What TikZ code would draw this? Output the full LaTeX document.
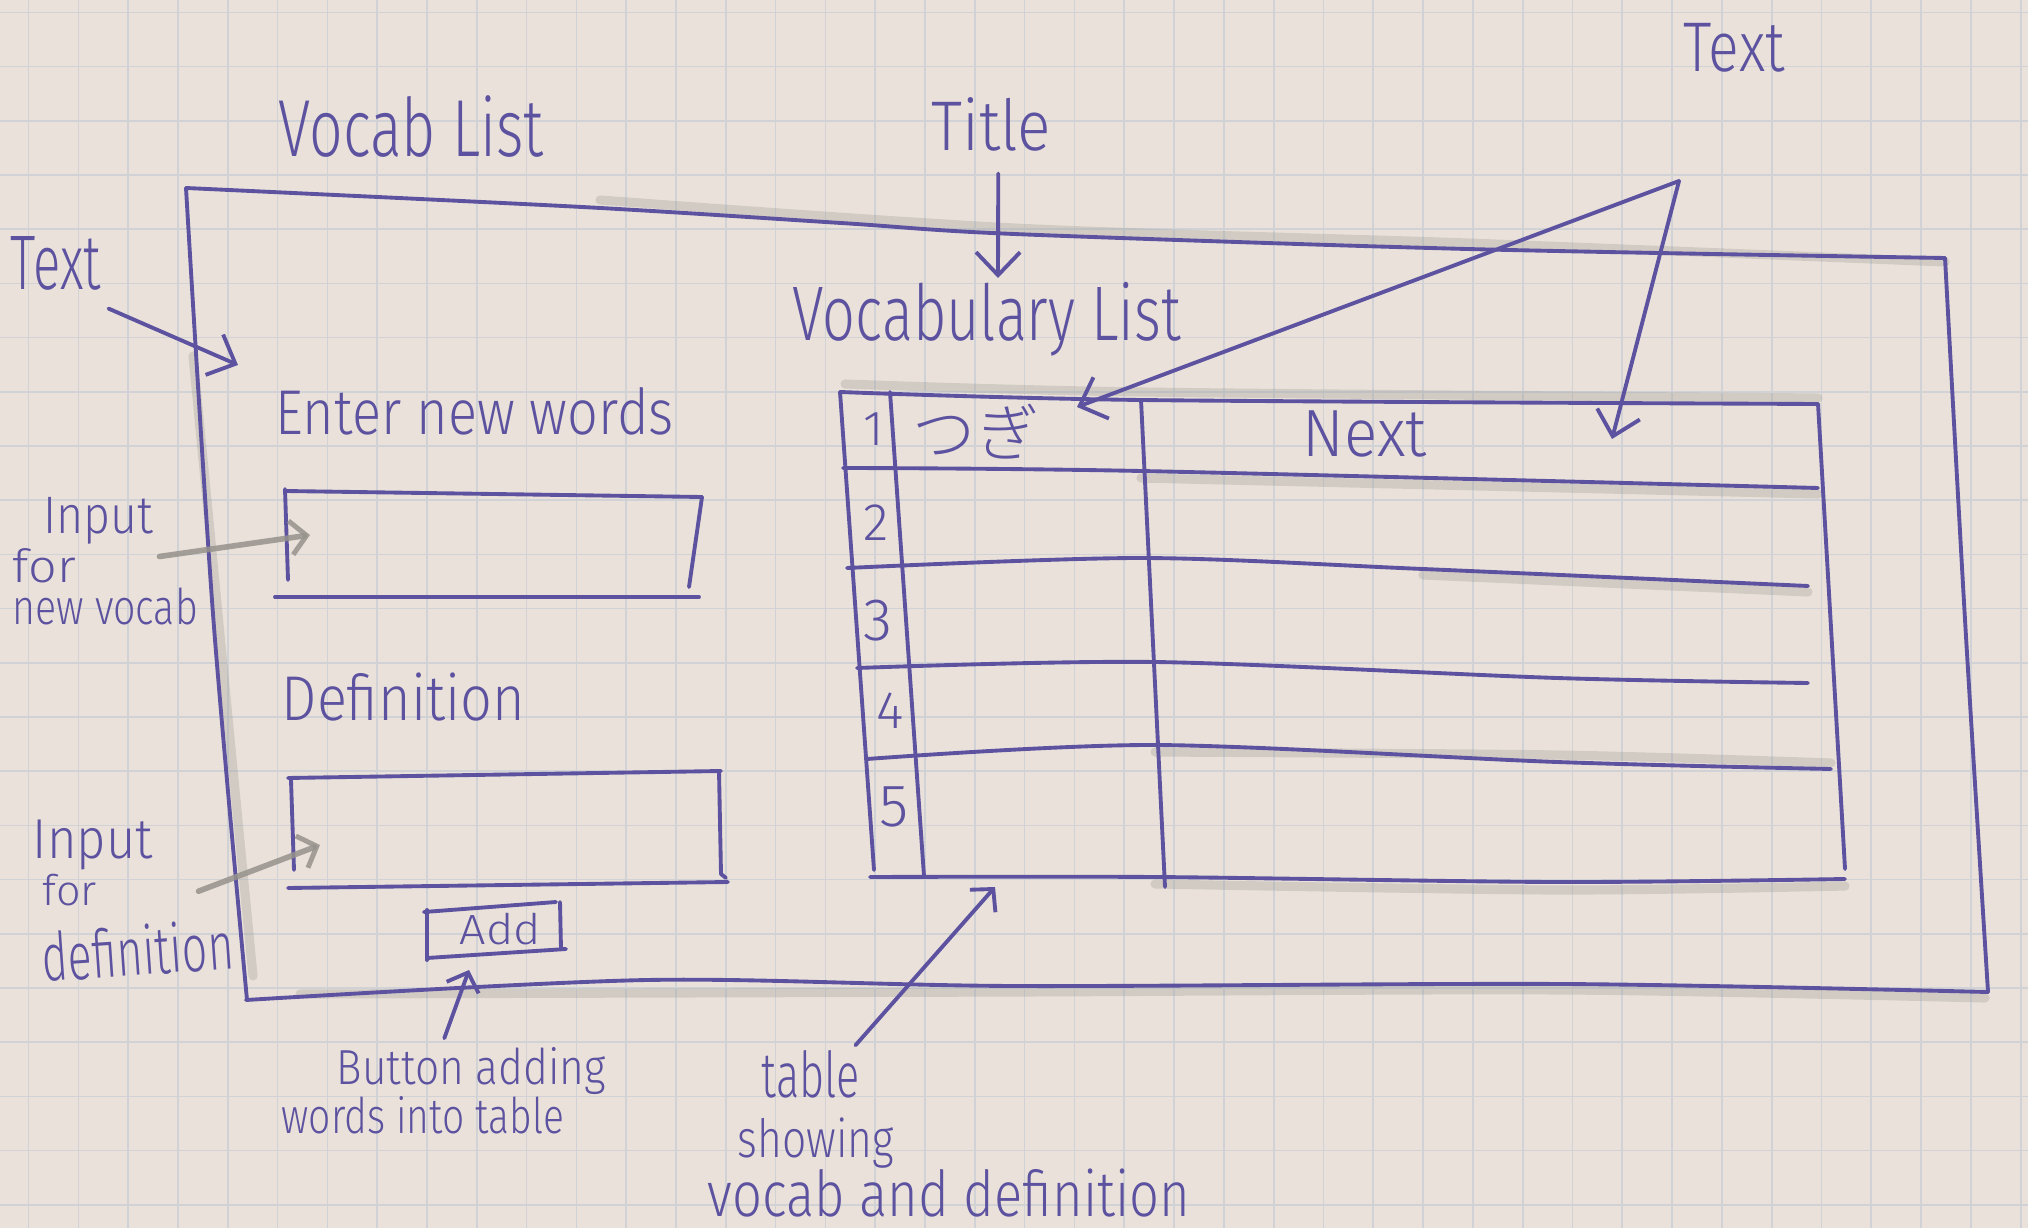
\documentclass[tikz,border=0pt]{standalone}
\usepackage{fontspec}
\usepackage{graphicx}
\IfFontExistsTF{Fira Sans Light}{\setmainfont{Fira Sans Light}}{%
  \IfFontExistsTF{FiraSans-Light.otf}{\setmainfont{FiraSans-Light.otf}}{\setmainfont{PT Sans}}}
\IfFontExistsTF{Noto Sans CJK JP Light}{\newfontfamily\jpfont{Noto Sans CJK JP Light}}{\newfontfamily\jpfont{Noto Sans CJK JP}}
\usetikzlibrary{arrows.meta}

\definecolor{paper}{RGB}{234,226,218}
\definecolor{gridline}{RGB}{208,210,214}
\definecolor{ink}{RGB}{92,82,160}
\definecolor{pencil}{RGB}{150,146,140}

% text at a given size, squeezed sideways to a given width
\newcommand\hw[3]{\resizebox{#2}{\height}{\fontsize{#1}{#1}\selectfont #3}}
% text at a given size
\newcommand\hs[2]{{\fontsize{#1}{#1}\selectfont #2}}

\begin{document}
\begin{tikzpicture}[x=0.01cm, y=-0.01cm,
  pen/.style={draw=ink, line width=1.1pt, line cap=round, line join=round},
  penarrow/.style={pen, -{Straight Barb[length=2.3mm, width=4.4mm, line width=1.1pt]}},
  smallarrow/.style={pen, -{Straight Barb[length=1.6mm, width=3.4mm, line width=1.1pt]}},
  pencilline/.style={draw=pencil, line width=2.6pt, opacity=0.28, line cap=round},
  pencilarrow/.style={draw=pencil, line width=1.6pt, opacity=0.85, line cap=round,
    -{Straight Barb[length=1.6mm, width=3.4mm, line width=1.4pt]}},
  txt/.style={inner sep=0pt, anchor=base west, text=ink},
]
% paper
\useasboundingbox (0,0) rectangle (2028,1228);
\fill[paper] (0,0) rectangle (2028,1228);
\foreach \i in {0,...,40} \draw[gridline, line width=0.5pt] ({28.6+49.8*\i},0) -- ({28.6+49.8*\i},1228);
\foreach \j in {0,...,22} \draw[gridline, line width=0.5pt] (0,{12.4+54.2*\j}) -- (2028,{12.4+54.2*\j});

% ---------- page frame ----------
\draw[pencilline] plot[smooth] coordinates {(600,200) (1014,228) (1467,243) (1945,262)};
\draw[pencilline] (193,356) -- (253,976);
\draw[pencilline] plot[smooth] coordinates {(300,994) (1014,992) (1564,990) (1985,998)};
\draw[pen] plot[smooth, tension=0.5] coordinates {(186,188) (582,207) (841,223) (1014,234) (1467,249) (1945,258)};
\draw[pen] plot[smooth, tension=0.5] coordinates {(1945,258) (1965,620) (1988,992)};
\draw[pen] plot[smooth, tension=0.5] coordinates {(246,1000) (647,980) (1014,986) (1564,984) (1988,992)};
\draw[pen] plot[smooth, tension=0.5] coordinates {(186,188) (213,614) (247,1000)};

% ---------- headings ----------
\node[txt] (vocablist) at (278,157) {\hw{23pt}{2.65cm}{Vocab List}};
\node[txt] (title) at (931,151) {\hw{20pt}{1.19cm}{Title}};
\node[txt] (vlist) at (792,341) {\hw{22pt}{3.88cm}{Vocabulary List}};
\node[txt] (textR) at (1683,72) {\hw{20pt}{1.01cm}{Text}};
\node[txt] (textL) at (10,290) {\hw{22pt}{0.90cm}{Text}};

\coordinate (titleTip) at (998,278);
\draw[penarrow] ([shift={(7,21)}]title.south) -- (titleTip);

% ---------- left form ----------
\node[txt] (enter) at (275,435) {\hw{18pt}{3.98cm}{Enter new words}};
\node[txt] (defn) at (281,720) {\hw{18pt}{2.43cm}{Definition}};

% first input box
\draw[pen] (285,491) -- (702,497);
\draw[pen] (285,489) -- (288,580);
\draw[pen] (702,497) -- (689,587);
\draw[pen] (275,597) -- (699,597);
% second input box
\draw[pen] (288,778) -- (721,771);
\draw[pen] (291,780) -- (294,870);
\draw[pen] (719,771) -- (721,874) -- (726,878);
\draw[pen] (288,888) -- (728,882);
% add button
\draw[pen] (424,912) -- (556,902);
\draw[pen] (427,910) -- (427,960);
\draw[pen] (560,902) -- (561,949);
\draw[pen] (427,958) -- (566,949);
\node[txt] (add) at (459,944) {\hw{12pt}{0.81cm}{Add}};

% ---------- annotations on the left ----------
\coordinate (tipL) at (238,365);
\draw[penarrow] ([shift={(7,17)}]textL.south east) -- (tipL);

\node[txt] (in1a) at (43,533) {\hw{15pt}{1.10cm}{Input}};
\node[txt] (in1b) at (12,582) {\hw{13pt}{0.63cm}{for}};
\node[txt] (in1c) at (12,625) {\hw{14pt}{1.85cm}{new vocab}};
\coordinate (box1In) at (310,535);
\draw[pencilarrow] ([shift={(5,12)}]in1a.south east) -- (box1In);

\node[txt] (in2a) at (32,858) {\hw{16pt}{1.20cm}{Input}};
\node[txt] (in2b) at (42,905) {\hw{12pt}{0.54cm}{for}};
\node[txt, rotate=4] (in2c) at (43,982) {\hw{19pt}{1.92cm}{definition}};
\coordinate (box2In) at (320,845);
\draw[pencilarrow] ([shift={(45,21)}]in2a.south east) -- (box2In);

\node[txt] (btn1) at (336,1084) {\hw{14pt}{2.69cm}{Button adding}};
\node[txt] (btn2) at (281,1133) {\hw{14pt}{2.82cm}{words into table}};
\coordinate (addTip) at (469,970);
\draw[smallarrow] ([shift={(-27,-8)}]btn1.north) -- (addTip);

% ---------- table ----------
\draw[pencilline] plot[smooth] coordinates {(845,384) (1141,392) (1818,398)};
\draw[pencilline] plot[smooth] coordinates {(1141,478) (1818,494)};
\draw[pencilline] plot[smooth] coordinates {(1423,575) (1808,592)};
\draw[pencilline] plot[smooth] coordinates {(1155,752) (1557,755) (1831,763)};
\draw[pencilline] plot[smooth] coordinates {(1155,884) (1557,890) (1845,886)};

\draw[pen] plot[smooth] coordinates {(840,392) (1141,400) (1818,404)};
\draw[pen] (840,392) -- (874,870);
\draw[pen] (890,392) -- (924,876);
\draw[pen] (1141,400) -- (1165,887);
\draw[pen] (1818,404) -- (1845,869);
\draw[pen] plot[smooth] coordinates {(843,468) (1141,471) (1818,488)};
\draw[pen] plot[smooth] coordinates {(847,568) (1141,558) (1423,569) (1808,586)};
\draw[pen] plot[smooth] coordinates {(857,668) (1155,662) (1557,678) (1808,683)};
\draw[pen] plot[smooth] coordinates {(867,759) (1155,745) (1557,762) (1831,769)};
\draw[pen] plot[smooth] coordinates {(870,877) (1155,877) (1557,882) (1845,879)};

\node[txt, anchor=base] (r1) at (874,446) {\hs{14pt}{1}};
\node[txt, anchor=base] (r2) at (876,541) {\hs{15pt}{2}};
\node[txt, anchor=base] (r3) at (878,640) {\hs{17pt}{3}};
\node[txt, anchor=base] (r4) at (890,728) {\hs{15pt}{4}};
\node[txt, anchor=base] (r5) at (894,826) {\hs{17pt}{5}};
\node[inner sep=0pt, text=ink] (tsugi) at (976,432) {\jpfont\fontsize{18pt}{18pt}\selectfont つぎ};
\node[txt] (next) at (1302,457) {\hw{19pt}{1.24cm}{Next}};

% labels pointing into the table
\coordinate (apex) at (1679,181);
\coordinate (tsugiTip) at (1077,407);
\coordinate (nextTip) at (1612,439);
\draw[penarrow] (apex) -- (tsugiTip);
\draw[penarrow] (apex) -- (nextTip);

\node[txt] (tb1) at (761,1097) {\hw{18pt}{0.98cm}{table}};
\node[txt] (tb2) at (737,1157) {\hw{15pt}{1.56cm}{showing}};
\node[txt] (tb3) at (707,1216) {\hw{18pt}{4.82cm}{vocab and definition}};
\coordinate (tableTip) at (995,887);
\draw[smallarrow] ([shift={(-5,-4)}]tb1.north east) -- (tableTip);
\end{tikzpicture}
\end{document}
